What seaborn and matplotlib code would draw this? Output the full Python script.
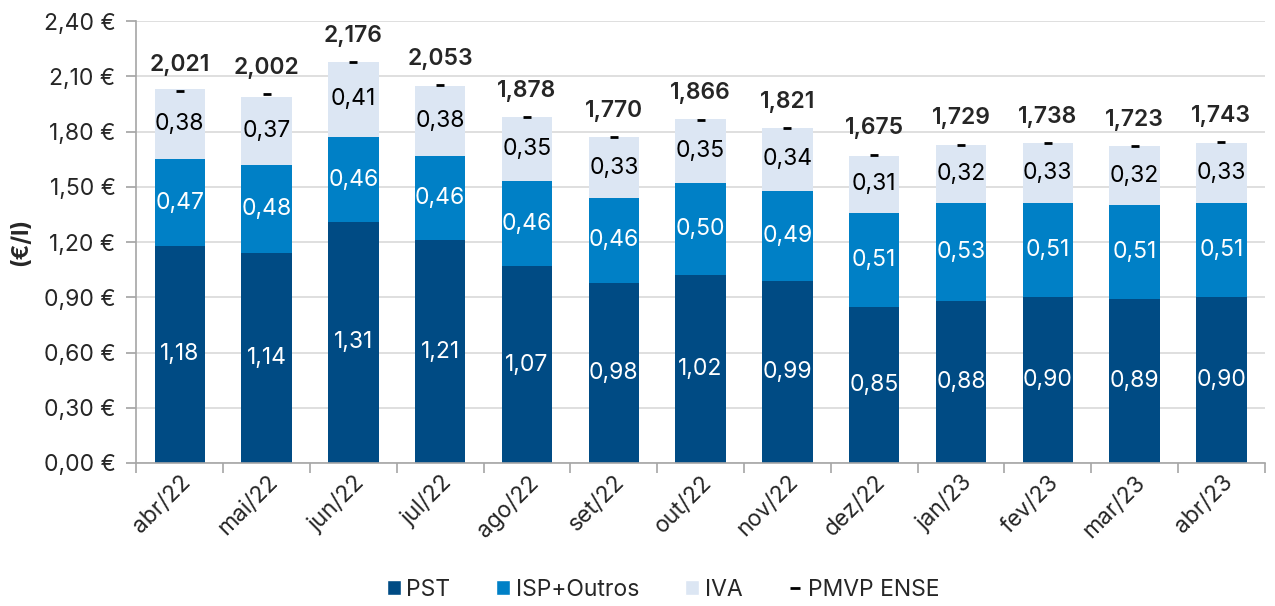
import numpy as np
import pandas as pd
import seaborn as sns
import matplotlib.pyplot as plt
from matplotlib.patches import Patch
from matplotlib.lines import Line2D
from matplotlib.ticker import FixedLocator, FuncFormatter

# =========================================================
# DATA
# =========================================================

months = ["abr/22", "mai/22", "jun/22", "jul/22", "ago/22", "set/22", "out/22",
          "nov/22", "dez/22", "jan/23", "fev/23", "mar/23", "abr/23"]
pst = [1.18, 1.14, 1.31, 1.21, 1.07, 0.98, 1.02, 0.99, 0.85, 0.88, 0.90, 0.89, 0.90]
isp = [0.47, 0.48, 0.46, 0.46, 0.46, 0.46, 0.50, 0.49, 0.51, 0.53, 0.51, 0.51, 0.51]
iva = [0.38, 0.37, 0.41, 0.38, 0.35, 0.33, 0.35, 0.34, 0.31, 0.32, 0.33, 0.32, 0.33]
pmvp = [2.021, 2.002, 2.176, 2.053, 1.878, 1.770, 1.866, 1.821, 1.675, 1.729,
        1.738, 1.723, 1.743]

c_pst = "#004B84"
c_isp = "#0080C6"
c_iva = "#DCE6F3"

df = pd.DataFrame({"mes": months, "PST": pst, "ISP": isp, "IVA": iva, "PMVP": pmvp})
df["lvl1"] = df["PST"]
df["lvl2"] = df["PST"] + df["ISP"]
df["lvl3"] = df["lvl2"] + df["IVA"]

# =========================================================
# PLOT
# =========================================================

sns.set_theme(style="white")
plt.rcParams["font.family"] = ["Inter", "DejaVu Sans"]

fig = plt.figure(figsize=(12.75, 6.06), dpi=100)
ax = fig.add_axes([0.107, 0.236, 0.885, 0.729])

bw = 0.58
# stacked via layering: total first, then partial sums
for col, c in [("lvl3", c_iva), ("lvl2", c_isp), ("lvl1", c_pst)]:
    sns.barplot(data=df, x="mes", y=col, color=c, width=bw, saturation=1,
                linewidth=0, ax=ax)

sns.scatterplot(data=df, x="mes", y="PMVP", marker="_", s=40, color="black",
                linewidth=2, ax=ax, zorder=5)

fs = 16.5
for i, row in df.iterrows():
    ax.text(i, row["PST"] / 2, f"{row['PST']:.2f}".replace(".", ","),
            ha="center", va="center", color="white", fontsize=fs)
    ax.text(i, row["PST"] + row["ISP"] / 2, f"{row['ISP']:.2f}".replace(".", ","),
            ha="center", va="center", color="white", fontsize=fs)
    ax.text(i, row["lvl2"] + row["IVA"] / 2, f"{row['IVA']:.2f}".replace(".", ","),
            ha="center", va="center", color="black", fontsize=fs)
    ax.annotate(f"{row['PMVP']:.3f}".replace(".", ","), (i, row["PMVP"]),
                xytext=(0, 11), textcoords="offset points",
                ha="center", va="bottom", fontsize=16.5, fontweight="semibold")

ax.set_ylim(0, 2.4)
ax.set_xlim(-0.5, len(months) - 0.5)
ax.yaxis.set_major_locator(FixedLocator(np.arange(0, 2.41, 0.3)))
ax.yaxis.set_major_formatter(FuncFormatter(lambda v, p: f"{v:.2f} €".replace(".", ",")))
ax.yaxis.grid(True, color="#D9D9D9", linewidth=1.2)
ax.set_axisbelow(True)

for s in ["top", "right"]:
    ax.spines[s].set_visible(False)
for s in ["left", "bottom"]:
    ax.spines[s].set_color("#A6A6A6")
    ax.spines[s].set_linewidth(1.2)

ax.tick_params(axis="y", which="major", left=True, length=7, color="#A6A6A6",
               labelsize=fs, pad=8)
ax.tick_params(axis="x", which="major", length=0, labelsize=fs, pad=6)
ax.xaxis.set_minor_locator(FixedLocator(np.arange(-0.5, len(months), 1)))
ax.tick_params(axis="x", which="minor", bottom=True, length=7, color="#A6A6A6", width=1.2)
plt.setp(ax.get_xticklabels(), rotation=45, ha="right", rotation_mode="anchor")

ax.set_xlabel("")
ax.set_ylabel("(€/l)", fontsize=fs, fontweight="bold", labelpad=8)

handles = [
    Patch(facecolor=c_pst, label="PST"),
    Patch(facecolor=c_isp, label="ISP+Outros"),
    Patch(facecolor=c_iva, label="IVA"),
    Line2D([], [], marker="_", linestyle="none", color="black", markersize=7,
           markeredgewidth=2, label="PMVP ENSE"),
]
fig.legend(handles=handles, loc="lower center", ncol=4, frameon=False,
           fontsize=fs, bbox_to_anchor=(0.52, -0.025), handlelength=0.6,
           handleheight=0.6, handletextpad=0.25, columnspacing=2.0)

plt.savefig("out.png", dpi=100)
